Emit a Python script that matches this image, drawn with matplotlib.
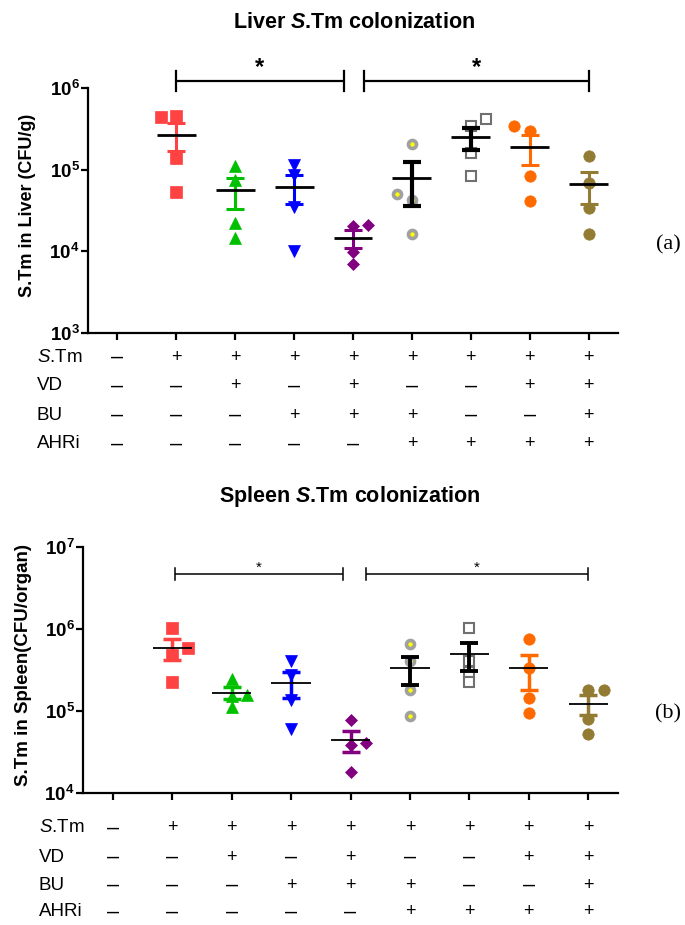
import numpy as np
import matplotlib
matplotlib.use("Agg")
import matplotlib.pyplot as plt
from matplotlib.ticker import NullLocator
from matplotlib.transforms import blended_transform_factory

plt.rcParams['font.family'] = ['Liberation Sans', 'DejaVu Sans']
plt.rcParams['mathtext.fontset'] = 'custom'
plt.rcParams['mathtext.rm'] = 'Liberation Sans'
plt.rcParams['mathtext.it'] = 'Liberation Sans:italic'
plt.rcParams['mathtext.bf'] = 'Liberation Sans:bold'
plt.rcParams['mathtext.bfit'] = 'Liberation Sans:italic:bold'

# treatment table (columns 0-8)
row_labels = [r'$\it{S}$.Tm', 'VD', 'BU', 'AHRi']
stm_row  = ['–', '+', '+', '+', '+', '+', '+', '+', '+']
vd_row   = ['–', '–', '+', '–', '+', '–', '–', '+', '+']
bu_row   = ['–', '–', '–', '+', '+', '+', '–', '–', '+']
ahri_row = ['–', '–', '–', '–', '–', '+', '+', '+', '+']

# liver CFU/g, columns 1-8 (column 0 = uninfected, no data)
liver_stm          = [4.48e5, 4.36e5, 1.39e5, 5.4e4]
liver_stm_vd       = [1.12e5, 7.5e4, 2.2e4, 1.46e4]
liver_stm_bu       = [1.15e5, 8.5e4, 3.5e4, 1.0e4]
liver_stm_vd_bu    = [2.06e4, 2.08e4, 9.8e3, 7.0e3]
liver_stm_bu_ahri  = [2.07e5, 4.3e4, 5.07e4, 1.64e4]
liver_stm_ahri     = [3.38e5, 4.16e5, 1.6e5, 8.4e4]
liver_stm_vd_ahri  = [2.94e5, 3.44e5, 8.3e4, 4.1e4]
liver_all          = [1.45e5, 6.9e4, 3.4e4, 1.64e4]

# spleen CFU/organ
spleen_stm         = [1.02e6, 4.8e5, 5.9e5, 2.27e5]
spleen_stm_vd      = [2.44e5, 1.54e5, 1.57e5, 1.13e5]
spleen_stm_bu      = [4.07e5, 2.75e5, 1.38e5, 6.0e4]
spleen_stm_vd_bu   = [7.8e4, 3.9e4, 4.07e4, 1.8e4]
spleen_stm_bu_ahri = [6.6e5, 4.07e5, 1.8e5, 8.6e4]
spleen_stm_ahri    = [1.04e6, 4.07e5, 2.99e5, 2.28e5]
spleen_stm_vd_ahri = [7.6e5, 3.37e5, 1.43e5, 9.5e4]
spleen_all         = [1.8e5, 1.8e5, 7.9e4, 5.3e4]

liver_groups = [liver_stm, liver_stm_vd, liver_stm_bu, liver_stm_vd_bu,
                liver_stm_bu_ahri, liver_stm_ahri, liver_stm_vd_ahri, liver_all]
spleen_groups = [spleen_stm, spleen_stm_vd, spleen_stm_bu, spleen_stm_vd_bu,
                 spleen_stm_bu_ahri, spleen_stm_ahri, spleen_stm_vd_ahri, spleen_all]

# styles
colors = ['#FF4242', '#00C000', '#0000FF', '#800080', '#A0A0A0', '#707070', '#FF6A00', '#927B33']
faces = ['#FF4242', '#00C000', '#0000FF', '#800080', '#FFFF00', 'white', '#FF6A00', '#927B33']
markers = ['s', '^', 'v', 'D', 'o', 's', 'o', 'o']
msizes = [8.0, 8.2, 8.2, 6.2, 5.8, 7.0, 8.2, 8.2]
mews = [0.5, 0.5, 0.5, 0.5, 2.6, 1.5, 0.5, 0.5]
sem_colors = ['#FF4242', '#00C000', '#0000FF', '#800080', 'black', 'black', '#FF6A00', '#927B33']
liver_side = [-1, 1, 1, 1, -1, 1, -1, 1]
spleen_side = [1, 1, 1, 1, 1, 1, 1, 1]

W, H = 685, 925
fig = plt.figure(figsize=(W / 100, H / 100), dpi=100)


def swarm(ax, vals, x0, side, thr=9.0, step=0.26):
    ypx = ax.transData.transform(np.column_stack([np.full(len(vals), x0), vals]))[:, 1]
    placed = []
    xs = []
    for y in ypx:
        for k in [0, side, -side, 2 * side, -2 * side]:
            if all(abs(y - py) >= thr or pk != k for py, pk in placed):
                break
        placed.append((y, k))
        xs.append(x0 + k * step)
    return xs


def panel(ax, groups, sides, ylim, mean_lw, sem_lw, sem_lw_black):
    ax.set_yscale('log')
    ax.set_xlim(-0.5, 8.5)
    ax.set_ylim(*ylim)
    for i, vals in enumerate(groups):
        x0 = i + 1
        v = np.array(vals)
        xs = swarm(ax, v, x0, sides[i])
        ax.plot(xs, v, ls='none', marker=markers[i], ms=msizes[i], mfc=faces[i],
                mec=colors[i], mew=mews[i], zorder=3, clip_on=False)
        m = v.mean()
        se = v.std(ddof=1) / np.sqrt(len(v))
        lw = sem_lw_black if sem_colors[i] == 'black' else sem_lw
        ax.errorbar(x0, m, yerr=se, fmt='none', ecolor=sem_colors[i], elinewidth=lw,
                    capsize=6.8, capthick=lw, zorder=4)
        ax.hlines(m, x0 - 0.33, x0 + 0.33, color='black', lw=mean_lw, zorder=5)
    for s in ['top', 'right']:
        ax.spines[s].set_visible(False)
    for s in ['left', 'bottom']:
        ax.spines[s].set_linewidth(1.6)
    lo, hi = int(np.log10(ylim[0])), int(np.log10(ylim[1]))
    ticks = [10.0 ** e for e in range(lo, hi + 1)]
    ax.set_yticks(ticks, labels=[r'$\mathbf{10^{%d}}$' % e for e in range(lo, hi + 1)])
    ax.yaxis.set_minor_locator(NullLocator())
    ax.set_xticks(range(9), labels=[''] * 9)
    ax.tick_params(width=1.6, length=5, labelsize=13.5, pad=1)


def table(ax, ys, xlab):
    tr = blended_transform_factory(ax.transData, fig.transFigure)
    rows = [stm_row, vd_row, bu_row, ahri_row]
    for lab, row, y in zip(row_labels, rows, ys):
        fig.text(xlab / W, 1 - y / H, lab, fontsize=13.5, ha='left', va='center')
        for j, sym in enumerate(row):
            size = 15.5 if sym == '–' else 13
            ax.text(j, 1 - y / H, sym, transform=tr, fontsize=size, ha='center', va='center')


def bracket(ax, x1, x2, y, ytop, ybot, lw, star_y, star_size, star_weight):
    ax.plot([x1, x2], [y, y], color='black', lw=lw, clip_on=False, solid_capstyle='butt')
    ax.plot([x1, x1], [ytop, ybot], color='black', lw=lw, clip_on=False)
    ax.plot([x2, x2], [ytop, ybot], color='black', lw=lw, clip_on=False)
    ax.text((x1 + x2) / 2, star_y, '*', ha='center', va='center', fontsize=star_size,
            fontweight=star_weight, clip_on=False)


# ---- Liver ----
ax1 = fig.add_axes([88 / W, 1 - 333 / H, 530 / W, 245 / H])
panel(ax1, liver_groups, liver_side, (1e3, 1e6), 2.0, 2.2, 3.0)
bracket(ax1, 1, 3.84, 10 ** 6.09, 10 ** 6.214, 10 ** 5.966, 1.6, 10 ** 6.25, 17, 'bold')
bracket(ax1, 4.19, 8, 10 ** 6.09, 10 ** 6.214, 10 ** 5.966, 1.6, 10 ** 6.25, 17, 'bold')
fig.text(354 / W, 1 - 23 / H, r'Liver $\mathbfit{S}$.Tm colonization', fontsize=15.5,
         fontweight='bold', ha='center', va='center')
fig.text(28 / W, 1 - 205 / H, 'S.Tm in Liver (CFU/g)', rotation=90, fontsize=13,
         fontweight='bold', ha='center', va='center')
fig.text(668 / W, 1 - 245 / H, '(a)', family='Liberation Serif', fontsize=16,
         ha='center', va='center')
table(ax1, [357, 386, 415, 444], 37)

# ---- Spleen ----
ax2 = fig.add_axes([83 / W, 1 - 793 / H, 535 / W, 246 / H])
panel(ax2, spleen_groups, spleen_side, (1e4, 1e7), 1.3, 2.5, 2.8)
bracket(ax2, 1.04, 3.87, 10 ** 6.673, 10 ** 6.747, 10 ** 6.597, 1.1, 10 ** 6.75, 11, 'normal')
bracket(ax2, 4.26, 8, 10 ** 6.673, 10 ** 6.747, 10 ** 6.597, 1.1, 10 ** 6.75, 11, 'normal')
fig.text(350 / W, 1 - 497 / H, r'Spleen $\mathbfit{S}$.Tm colonization', fontsize=15.5,
         fontweight='bold', ha='center', va='center')
fig.text(24 / W, 1 - 665 / H, 'S.Tm in Spleen(CFU/organ)', rotation=90, fontsize=13.5,
         fontweight='bold', ha='center', va='center')
fig.text(668 / W, 1 - 714 / H, '(b)', family='Liberation Serif', fontsize=16,
         ha='center', va='center')
table(ax2, [828, 857, 885, 912], 39)

fig.savefig('out.png', dpi=100)
